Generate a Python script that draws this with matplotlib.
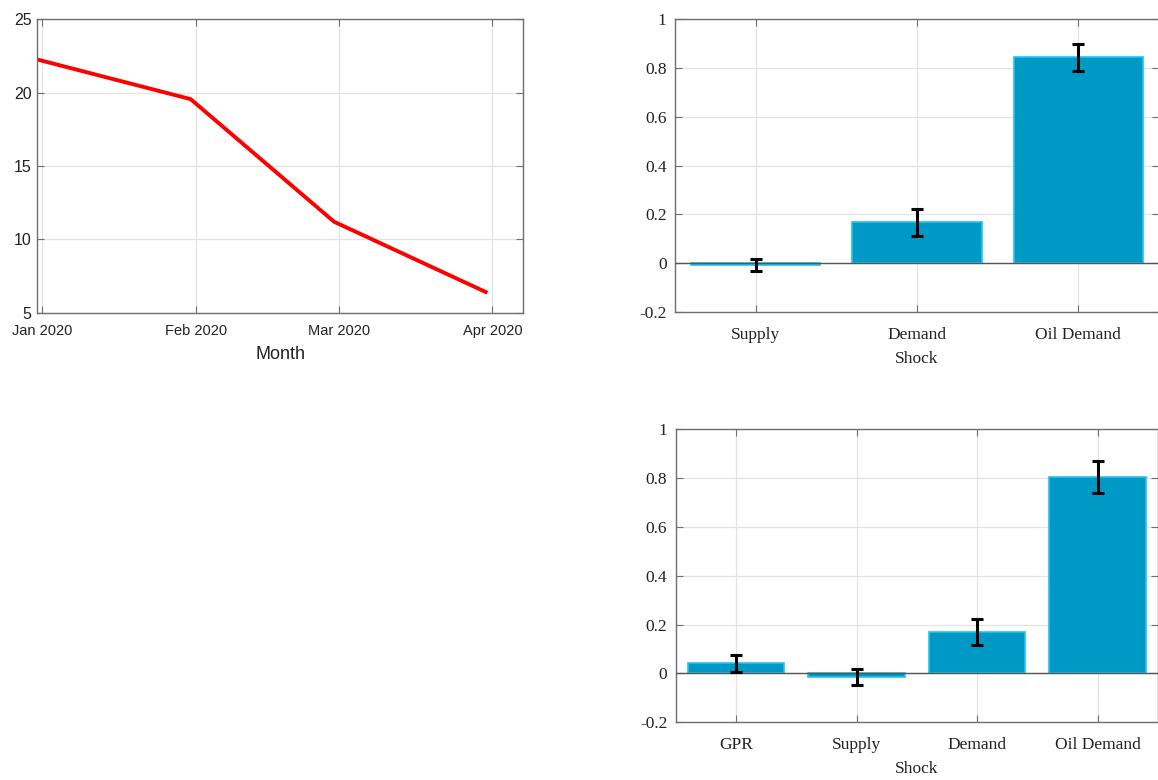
import matplotlib.pyplot as plt
import numpy as np
import datetime as dt

# data
month_dates = ["2019-12-31", "2020-01-31", "2020-02-29", "2020-03-31"]
month_values = [22.25, 19.55, 11.2, 6.36]
month_ticks = ["2020-01-01", "2020-02-01", "2020-03-01", "2020-04-01"]
month_labels = ["Jan 2020", "Feb 2020", "Mar 2020", "Apr 2020"]

shocks_a = ["Supply", "Demand", "Oil Demand"]
vals_a = [-0.008, 0.167, 0.843]
err_a = [0.025, 0.055, 0.056]

shocks_b = ["GPR", "Supply", "Demand", "Oil Demand"]
vals_b = [0.042, -0.014, 0.170, 0.804]
err_b = [0.035, 0.032, 0.054, 0.064]

bar_face = "#0099c5"
bar_edge = "#22c4ee"
axis_col = "#6e6e6e"
grid_col = "#e3e3e3"

fig = plt.figure(figsize=(11.58, 7.8), dpi=100)


def style_axes(ax, fam, size):
    for s in ax.spines.values():
        s.set_color(axis_col)
        s.set_linewidth(1.0)
    ax.tick_params(direction="in", length=5, width=0.8, color=axis_col,
                   top=True, right=True, labelsize=size, labelcolor="#222222")
    for lab in ax.get_xticklabels() + ax.get_yticklabels():
        lab.set_family(fam)
    ax.grid(True, color=grid_col, linewidth=0.9)
    ax.set_axisbelow(True)


# left: line over months
ax1 = fig.add_axes([0.0322, 0.599, 0.4197, 0.3765])
x = [dt.datetime.strptime(d, "%Y-%m-%d") for d in month_dates]
ax1.plot(x, month_values, color="#ff0000", linewidth=2.8, solid_capstyle="butt")
ax1.set_xlim(dt.datetime(2019, 12, 31), dt.datetime(2020, 4, 7, 6))
ax1.set_ylim(5, 25)
ax1.set_yticks([5, 10, 15, 20, 25])
ax1.set_xticks([dt.datetime.strptime(d, "%Y-%m-%d") for d in month_ticks])
ax1.set_xticklabels(month_labels)
style_axes(ax1, "Liberation Sans", 10.5)
ax1.tick_params(axis="y", labelsize=11.5, pad=4)
ax1.tick_params(axis="x", pad=8)
ax1.set_xlabel("Month", family="Liberation Sans", fontsize=13, color="#222222", labelpad=6)


def bar_panel(rect, cats, vals, errs):
    ax = fig.add_axes(rect)
    pos = np.arange(1, len(cats) + 1)
    ax.bar(pos, vals, width=0.8, color=bar_face, edgecolor=bar_edge, linewidth=1.2, zorder=2)
    ax.axhline(0, color="#555555", linewidth=1.0, zorder=3)
    ax.errorbar(pos, vals, yerr=errs, fmt="none", ecolor="black", elinewidth=2.2,
                capsize=4, capthick=2.2, zorder=4)
    ax.set_xlim(0.5, len(cats) + 0.5)
    ax.set_ylim(-0.2, 1)
    ax.set_yticks([-0.2, 0, 0.2, 0.4, 0.6, 0.8, 1])
    ax.set_yticklabels(["-0.2", "0", "0.2", "0.4", "0.6", "0.8", "1"])
    ax.set_xticks(pos)
    ax.set_xticklabels(cats)
    style_axes(ax, "Liberation Serif", 12.5)
    ax.tick_params(axis="x", pad=10.5)
    ax.tick_params(axis="y", pad=6)
    ax.set_xlabel("Shock", family="Liberation Serif", fontsize=12.5, color="#222222", labelpad=6)
    return ax


ax2 = bar_panel([0.5829, 0.6, 0.418, 0.3756], shocks_a, vals_a, err_a)
ax3 = bar_panel([0.5835, 0.074, 0.4165, 0.376], shocks_b, vals_b, err_b)

fig.savefig("out.png", dpi=100)
